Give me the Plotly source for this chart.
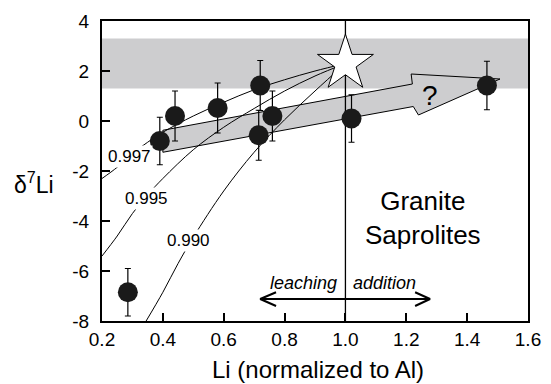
import plotly.graph_objects as go

FONT = "Liberation Sans, Arial, sans-serif"

# ---- data ----
li_norm = [0.285, 0.39, 0.44, 0.58, 0.72, 0.715, 0.76, 1.02, 1.465]
d7li = [-6.85, -0.8, 0.2, 0.52, 1.42, -0.57, 0.2, 0.1, 1.42]
d7li_err = [0.95, 0.95, 1.0, 1.0, 1.0, 1.0, 1.0, 0.95, 0.97]

star_x = [1.0]
star_y = [2.3]

# Rayleigh fractionation curves (alpha labels)
c997_x = [0.2, 0.25, 0.3, 0.35, 0.4, 0.5, 0.6, 0.7, 0.8, 0.9, 1.0]
c997_y = [-2.3, -1.85, -1.3, -0.85, -0.45, 0.2, 0.75, 1.25, 1.65, 2.0, 2.3]
c995_x = [0.2, 0.25, 0.3, 0.35, 0.4, 0.5, 0.6, 0.7, 0.8, 0.9, 1.0]
c995_y = [-5.4, -4.6, -3.7, -2.95, -2.3, -1.15, -0.25, 0.5, 1.2, 1.8, 2.3]
c990_x = [0.345, 0.4, 0.45, 0.5, 0.6, 0.7, 0.8, 0.9, 1.0]
c990_y = [-8.0, -6.85, -5.7, -4.65, -2.8, -1.25, 0.05, 1.2, 2.3]
curve_labels = ["0.997", "0.995", "0.990"]
curve_label_x = [0.292, 0.345, 0.485]
curve_label_y = [-1.43, -3.1, -4.77]

# fat gray arrow outline
arrow_x = [0.40, 1.22, 1.216, 1.508, 1.24, 1.223, 0.40, 0.40]
arrow_y = [-0.37, 1.48, 1.88, 1.68, 0.24, 0.58, -1.25, -0.37]

# reference band and vertical line
band_y = [1.3, 3.3]
vline_x = [1.0, 1.0]
vline_y = [-8, 4]

# leaching / addition double arrow
dbl_x = [0.772, 0.72, 0.772, None, 0.72, 1.278, None, 1.229, 1.278, 1.229]
dbl_y = [-6.85, -7.12, -7.4, None, -7.12, -7.12, None, -6.85, -7.12, -7.4]

x_ticks = [0.2, 0.4, 0.6, 0.8, 1.0, 1.2, 1.4, 1.6]
x_ticktext = ["0.2", "0.4", "0.6", "0.8", "1.0", "1.2", "1.4", "1.6"]
y_ticks = [-8, -6, -4, -2, 0, 2, 4]
y_ticktext = ["-8", "-6", "-4", "-2", "0", "2", "4"]

GRAY = "#cdcdcf"

fig = go.Figure()

fig.add_trace(go.Scatter(x=arrow_x, y=arrow_y, mode="lines", fill="toself",
                         fillcolor=GRAY, line=dict(color="black", width=1),
                         hoverinfo="skip", showlegend=False))
fig.add_trace(go.Scatter(x=vline_x, y=vline_y, mode="lines",
                         line=dict(color="black", width=1.3), showlegend=False))
for cx, cy in [(c997_x, c997_y), (c995_x, c995_y), (c990_x, c990_y)]:
    fig.add_trace(go.Scatter(x=cx, y=cy, mode="lines", line_shape="spline",
                             line=dict(color="black", width=1), showlegend=False))
fig.add_trace(go.Scatter(x=dbl_x, y=dbl_y, mode="lines",
                         line=dict(color="black", width=2), showlegend=False))
fig.add_trace(go.Scatter(x=li_norm, y=d7li, mode="markers",
                         marker=dict(size=20, color="#1a1a1a", line=dict(width=0)),
                         error_y=dict(type="data", array=d7li_err, color="black",
                                      thickness=1.2, width=3),
                         showlegend=False))
fig.add_trace(go.Scatter(x=star_x, y=star_y, mode="markers",
                         marker=dict(symbol="star", size=42, color="white",
                                     line=dict(color="black", width=1)),
                         showlegend=False))

fig.add_shape(type="rect", xref="paper", x0=0, x1=1, yref="y",
              y0=band_y[0], y1=band_y[1], fillcolor=GRAY, line_width=0, layer="below")

for t, lx, ly in zip(curve_labels, curve_label_x, curve_label_y):
    fig.add_annotation(x=lx, y=ly, text=t, showarrow=False, bgcolor="white",
                       borderpad=1, font=dict(family=FONT, size=17, color="black"))

fig.add_annotation(x=1.278, y=1.04, text="?", showarrow=False,
                   font=dict(family=FONT, size=28, color="black"))
fig.add_annotation(x=1.255, y=-3.88, text="Granite<br>Saprolites", showarrow=False,
                   font=dict(family=FONT, size=26, color="black"))
fig.add_annotation(x=0.863, y=-6.48, text="<i>leaching</i>", showarrow=False,
                   font=dict(family=FONT, size=18, color="black"))
fig.add_annotation(x=1.13, y=-6.48, text="<i>addition</i>", showarrow=False,
                   font=dict(family=FONT, size=18, color="black"))
fig.add_annotation(xref="paper", yref="paper", x=-0.16, y=0.46,
                   xanchor="center", yanchor="middle",
                   text="δ<sup>7</sup>Li", showarrow=False,
                   font=dict(family=FONT, size=23, color="black"))
fig.add_annotation(xref="paper", yref="paper", x=0.507, y=-0.163,
                   xanchor="center", yanchor="middle",
                   text="Li (normalized to Al)", showarrow=False,
                   font=dict(family=FONT, size=24, color="black"))

axis_common = dict(showgrid=False, zeroline=False, showline=True, linewidth=2,
                   linecolor="black", mirror=True, ticks="inside", ticklen=8,
                   tickwidth=1.5, tickcolor="black",
                   tickfont=dict(family=FONT, size=19, color="black"))
fig.update_xaxes(range=[0.2, 1.6], tickmode="array", tickvals=x_ticks,
                 ticktext=x_ticktext, **axis_common)
fig.update_yaxes(range=[-8, 4], tickmode="array", tickvals=y_ticks,
                 ticktext=y_ticktext, ticklabelstandoff=7, **axis_common)

fig.update_layout(width=551, height=384,
                  margin=dict(l=102, r=23, t=21, b=63, autoexpand=False),
                  plot_bgcolor="white", paper_bgcolor="white",
                  showlegend=False, font=dict(family=FONT))

fig.write_html("out.html", config={"displayModeBar": False},
               post_script="document.body.style.margin='0';document.body.style.padding='0';")
